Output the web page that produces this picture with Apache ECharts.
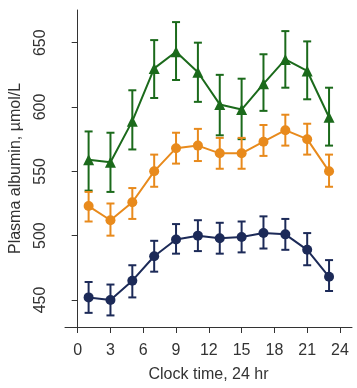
<!DOCTYPE html>
<html><head><meta charset="utf-8">
<script src="https://cdn.jsdelivr.net/npm/echarts@6/dist/echarts.min.js"></script>
<style>html,body{margin:0;padding:0;background:#fff}#c{width:357px;height:388px}</style>
</head><body><div id="c"></div>
<script>
const hours = [1,3,5,7,9,11,13,15,17,19,21,23];
const greenMean = [559,557,589,630,643,627,602,598,618,637,628,592];
const greenLow  = [535,534,567,607,621,604,578,575,597,615,606,570];
const greenHigh = [581,580,613,652,666,650,625,622,641,659,651,615];
const orangeMean = [523,512,526,550,568,570,564,564,573,582,575,550];
const orangeLow  = [511,500,513,538,556,558,552,552,562,570,563,538];
const orangeHigh = [534,525,537,563,580,583,576,576,586,594,587,563];
const navyMean = [452,450,465,484,497,500,498,499,502,501,489,468];
const navyLow  = [440,438,452,472,486,488,486,487,490,489,477,457];
const navyHigh = [464,462,477,496,509,512,510,511,515,513,502,481];
const yTicks = [450,500,550,600,650];
const xTicks = [0,3,6,9,12,15,18,21,24];

const cGreen = '#1b6a1b', cOrange = '#e88a1c', cNavy = '#1c2a58';
const font = 'Liberation Sans, Arial, sans-serif';

function pairs(xs, ys){ return xs.map((x,i)=>[x, ys[i]]); }
function errData(xs, lo, hi){ return xs.map((x,i)=>[x, lo[i], hi[i]]); }
function errSeries(data, color){
  return {
    type:'custom', data: data, z: 2, silent:true,
    encode:{x:0, y:[1,2]},
    renderItem: function(params, api){
      const x = api.value(0);
      const p1 = api.coord([x, api.value(1)]);
      const p2 = api.coord([x, api.value(2)]);
      const w = 4;
      const st = {stroke: color, lineWidth: 2};
      return {type:'group', children:[
        {type:'line', shape:{x1:p1[0],y1:p1[1],x2:p2[0],y2:p2[1]}, style:st},
        {type:'line', shape:{x1:p1[0]-w,y1:p1[1],x2:p1[0]+w,y2:p1[1]}, style:st},
        {type:'line', shape:{x1:p2[0]-w,y1:p2[1],x2:p2[0]+w,y2:p2[1]}, style:st}
      ]};
    }
  };
}
function lineSeries(data, color, symbol, size){
  return {type:'line', data:data, symbol:symbol, symbolSize:size, z:3,
    lineStyle:{color:color, width:2}, itemStyle:{color:color}, silent:true};
}

const chart = echarts.init(document.getElementById('c'));
chart.setOption({
  animation:false,
  grid:{left:64, right:5, top:10, bottom:61},
  xAxis:{type:'value', min:-1.16, max:25.1,
    axisLine:{show:true, lineStyle:{color:'#333', width:1}},
    axisTick:{show:true, length:6, customValues:xTicks, lineStyle:{color:'#333'}},
    axisLabel:{customValues:xTicks, margin:16, fontSize:16, color:'#333', fontFamily:font},
    splitLine:{show:false},
    name:'Clock time, 24 hr', nameLocation:'middle', nameGap:40,
    nameTextStyle:{fontSize:16, color:'#333', fontFamily:font}},
  yAxis:{type:'value', min:429, max:675.4,
    axisLine:{show:true, lineStyle:{color:'#333', width:1}},
    axisTick:{show:true, length:6, customValues:yTicks, lineStyle:{color:'#333'}},
    axisLabel:{customValues:yTicks, rotate:90, margin:16, fontSize:16, color:'#333', fontFamily:font},
    splitLine:{show:false},
    name:'Plasma albumin, µmol/L', nameLocation:'middle', nameGap:41,
    nameTextStyle:{fontSize:16, color:'#333', fontFamily:font}},
  series:[
    errSeries(errData(hours, greenLow, greenHigh), cGreen),
    errSeries(errData(hours, orangeLow, orangeHigh), cOrange),
    errSeries(errData(hours, navyLow, navyHigh), cNavy),
    lineSeries(pairs(hours, greenMean), cGreen, 'triangle', 11),
    lineSeries(pairs(hours, orangeMean), cOrange, 'circle', 10),
    lineSeries(pairs(hours, navyMean), cNavy, 'circle', 10)
  ]
});
</script></body></html>
